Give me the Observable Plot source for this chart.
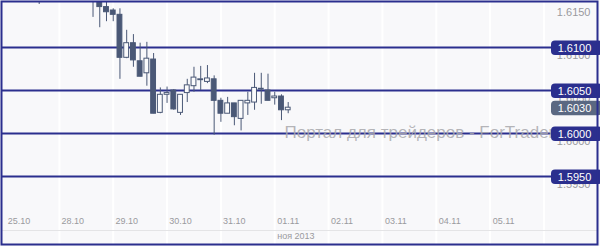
<!DOCTYPE html>
<html><head><meta charset="utf-8">
<script src="https://cdn.jsdelivr.net/npm/d3@7"></script>
<script src="https://cdn.jsdelivr.net/npm/@observablehq/plot@0.6"></script>
<style>body{margin:0;background:#fff}#chart svg{display:block}</style>
</head><body><div id="chart"></div>
<script>
// 3-hour candles, slot index (8 per trading day, slot 0 = 25.10 00:00)
const slots  = [3, 11, 12, 13, 14, 15, 16, 17, 18, 19, 20, 21, 22, 23, 24, 25, 26, 27, 28, 29, 30, 31, 32, 33, 34, 35, 36, 37, 38, 39, 40];
const opens  = [1.6160, 1.6162, 1.6154, 1.6147, 1.6143, 1.6138, 1.6088, 1.6105, 1.6084, 1.6070, 1.6086, 1.6024, 1.6045, 1.6050, 1.6024, 1.6047, 1.6055, 1.6062, 1.6060, 1.6063, 1.6038, 1.6023, 1.6035, 1.6017, 1.6035, 1.6036, 1.6051, 1.6050, 1.6041, 1.6043, 1.6027];
const highs  = [1.6165, 1.6168, 1.6157, 1.6155, 1.6145, 1.6145, 1.6120, 1.6115, 1.6105, 1.6106, 1.6093, 1.6053, 1.6054, 1.6051, 1.6045, 1.6063, 1.6077, 1.6078, 1.6079, 1.6067, 1.6041, 1.6042, 1.6035, 1.6038, 1.6048, 1.6070, 1.6070, 1.6069, 1.6048, 1.6045, 1.6036];
const lows   = [1.6150, 1.6135, 1.6123, 1.6130, 1.6130, 1.6063, 1.6087, 1.6077, 1.6066, 1.6055, 1.6023, 1.6023, 1.6035, 1.6027, 1.6021, 1.6036, 1.6048, 1.6050, 1.6058, 1.5998, 1.6013, 1.6023, 1.6009, 1.6003, 1.6021, 1.6027, 1.6034, 1.6038, 1.6033, 1.6015, 1.6023];
const closes = [1.6158, 1.6158, 1.6147, 1.6141, 1.6138, 1.6088, 1.6105, 1.6085, 1.6066, 1.6087, 1.6023, 1.6045, 1.6047, 1.6028, 1.6045, 1.6056, 1.6065, 1.6063, 1.6064, 1.6038, 1.6023, 1.6035, 1.6019, 1.6038, 1.6038, 1.6053, 1.6052, 1.6038, 1.6043, 1.6027, 1.6030];

const dayLabels = ["25.10", "28.10", "29.10", "30.10", "31.10", "01.11", "02.11", "03.11", "04.11", "05.11"];
const daySlots  = [0, 8, 16, 24, 32, 40, 48, 56, 64, 72];
const monthLabel = "ноя 2013";
const monthSlot = 40;

const levels = [1.6100, 1.6050, 1.6000, 1.5950];
const axisTicks = [1.6150, 1.6100, 1.6050, 1.6000, 1.5950];
const currentPrice = 1.6030;
const watermark = "Портал для трейдеров - ForTrader";
const watermarkSlot = 39.45;
const watermarkLevel = 1.6000;

// layout
const W = 600, H = 246;
const X0 = 18.5, SLOT = 6.73;
const PX = 0.005 / 43; // price per pixel
const yTopPx = 47, yTopVal = 1.6100;
const pxToPrice = p => yTopVal + (yTopPx - p) * PX;
const pxToSlot = p => (p - X0) / SLOT;

const navy = "#2b2f8e", slate = "#4a5876", bg = "#f8f8fa";

const candles = slots.map((s, i) => ({s, o: opens[i], h: highs[i], l: lows[i], c: closes[i]}));
const labelRows = levels.map(v => ({v, t: v.toFixed(4), f: navy}));
labelRows.push({v: currentPrice, t: currentPrice.toFixed(4), f: "#5a6882"});

const boxL = pxToSlot(551), boxR = pxToSlot(602);

const chart = Plot.plot({
  width: W, height: H,
  marginTop: 1, marginLeft: 1, marginRight: 3, marginBottom: 2,
  style: {background: bg, fontFamily: "'Liberation Sans', Arial, sans-serif"},
  x: {type: "linear", domain: [0, 86], range: [X0, X0 + 86 * SLOT], axis: null},
  y: {type: "linear", domain: [1.5950, 1.6100], range: [176, 47], axis: null},
  marks: [
    Plot.ruleX(daySlots.map(s => s + 6), {x: d => d, stroke: "#ffffff", strokeWidth: 2}),
    Plot.ruleY([pxToPrice(230)], {stroke: "#e4e4e6", strokeWidth: 1}),
    Plot.ruleY(levels, {stroke: navy, strokeWidth: 2}),
    Plot.text([watermark], {x: watermarkSlot, y: watermarkLevel, text: d => d, textAnchor: "start", dy: -1, fill: "#a8a8ac", fillOpacity: 0.85, fontSize: 17}),
    Plot.ruleX(candles, {x: "s", y1: "l", y2: "h", stroke: slate, strokeWidth: 1, clip: true}),
    Plot.rect(candles, {
      x1: d => d.s - 0.36, x2: d => d.s + 0.36,
      y1: d => Math.min(d.o, d.c), y2: d => Math.max(d.o, d.c),
      fill: d => d.c < d.o ? slate : "#fbfbfc", stroke: slate, strokeWidth: 1, clip: true
    }),
    Plot.text(axisTicks, {y: d => d, text: d => d.toFixed(4), frameAnchor: "right", textAnchor: "end", dx: -7, dy: 8, fill: "#9a9a9e", fontSize: 11}),
    Plot.text(dayLabels, {x: (d, i) => daySlots[i], text: d => d, frameAnchor: "bottom", dy: -21, fill: "#9a9a9e", fontSize: 9}),
    Plot.text([monthLabel], {x: monthSlot, text: d => d, frameAnchor: "bottom", textAnchor: "start", dx: -11, dy: -6, fill: "#9a9a9e", fontSize: 9}),
    Plot.rect(labelRows, {x1: boxL, x2: boxR, y1: d => d.v - 8 * PX, y2: d => d.v + 6.5 * PX, fill: d => d.f, rx: 4}),
    Plot.text(labelRows, {x: pxToSlot(574), y: "v", text: "t", fill: "#ffffff", fontSize: 11, dy: 1}),
    Plot.frame({stroke: navy, strokeWidth: 2})
  ]
});
document.getElementById("chart").appendChild(chart);
</script>
</body></html>
